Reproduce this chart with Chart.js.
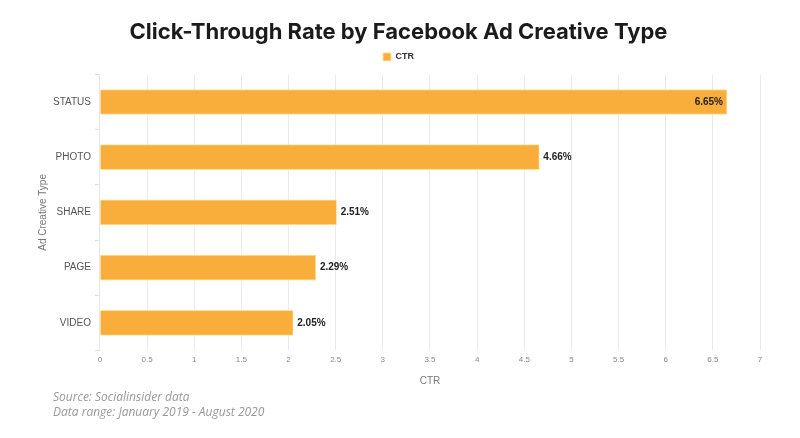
<!DOCTYPE html>
<html>
<head>
<meta charset="utf-8">
<script src="https://cdn.jsdelivr.net/npm/chart.js@4.4.0/dist/chart.umd.min.js"></script>
<style>
    html, body { margin: 0; padding: 0; background: #fff; }
    #wrap { position: relative; width: 800px; height: 438px; }
    #footer {
        position: absolute; left: 53px; top: 389px;
        font-family: "Open Sans", sans-serif; font-style: italic;
        font-size: 12px; line-height: 15px; color: #999;
    }
</style>
</head>
<body>
<div id="wrap">
    <canvas id="ctrChart" width="800" height="438"></canvas>
    <div id="footer">Source: Socialinsider data<br>Data range: January 2019 - August 2020</div>
</div>
<script>
const categories = ['STATUS', 'PHOTO', 'SHARE', 'PAGE', 'VIDEO'];
const ctrValues = [6.65, 4.66, 2.51, 2.29, 2.05];
const seriesName = 'CTR';

// draws the "x.xx%" labels at the end of every bar
const barLabels = {
    id: 'barLabels',
    afterDatasetsDraw(chart) {
        const ctx = chart.ctx;
        const meta = chart.getDatasetMeta(0);
        ctx.save();
        ctx.font = 'bold 10px "Liberation Sans", Arial, sans-serif';
        ctx.fillStyle = '#222';
        ctx.textBaseline = 'middle';
        meta.data.forEach((bar, i) => {
            const text = ctrValues[i].toFixed(2) + '%';
            const w = ctx.measureText(text).width;
            if (bar.x + w + 8 > chart.chartArea.right - 20) {
                ctx.textAlign = 'right';
                ctx.fillText(text, bar.x - 4, bar.y);
            } else {
                ctx.textAlign = 'left';
                ctx.fillText(text, bar.x + 4, bar.y);
            }
        });
        ctx.restore();
    }
};

// a bit more room under the legend
const legendGap = {
    id: 'legendGap',
    beforeInit(chart) {
        const fit = chart.legend.fit;
        chart.legend.fit = function () {
            fit.bind(chart.legend)();
            this.height += 3;
        };
    }
};

const chartContext = document.getElementById('ctrChart').getContext('2d');
new Chart(chartContext, {
    type: 'bar',
    data: {
        labels: categories,
        datasets: [{
            label: seriesName,
            data: ctrValues,
            backgroundColor: '#F9AD3B',
            borderColor: '#FBE3A0',
            borderWidth: 1,
            barThickness: 25
        }]
    },
    options: {
        indexAxis: 'y',
        responsive: false,
        animation: false,
        layout: { padding: { left: 37, right: 40, top: 6, bottom: 47 } },
        scales: {
            x: {
                min: 0,
                max: 7,
                ticks: {
                    stepSize: 0.5,
                    color: '#888',
                    font: { size: 8, family: '"Liberation Sans", Arial, sans-serif' },
                    padding: 5,
                    callback: v => String(+v.toFixed(1))
                },
                grid: { color: '#ebebeb', drawTicks: false },
                border: { display: false },
                title: {
                    display: true,
                    text: 'CTR',
                    color: '#777',
                    font: { size: 10, family: '"Liberation Sans", Arial, sans-serif' },
                    padding: { top: 5 }
                }
            },
            y: {
                ticks: {
                    color: '#555',
                    font: { size: 10, family: '"Liberation Sans", Arial, sans-serif' },
                    padding: 4
                },
                grid: { drawOnChartArea: false, tickLength: 5, color: '#ddd' },
                border: { color: '#e6e6e6' },
                title: {
                    display: true,
                    text: 'Ad Creative Type',
                    color: '#777',
                    font: { size: 10, family: '"Liberation Sans", Arial, sans-serif' },
                    padding: { top: 0, bottom: 0 }
                }
            }
        },
        plugins: {
            title: {
                display: true,
                text: 'Click-Through Rate by Facebook Ad Creative Type',
                color: '#1b1b1b',
                font: { size: 22, weight: 'bold', family: 'Inter, "Open Sans", sans-serif' },
                padding: { top: 13, bottom: 0 }
            },
            legend: {
                labels: {
                    boxWidth: 8,
                    boxHeight: 8,
                    padding: 7,
                    color: '#333',
                    font: { size: 9, weight: 'bold', family: '"Liberation Sans", Arial, sans-serif' }
                }
            },
            tooltip: { enabled: false }
        }
    },
    plugins: [barLabels, legendGap]
});
</script>
</body>
</html>
